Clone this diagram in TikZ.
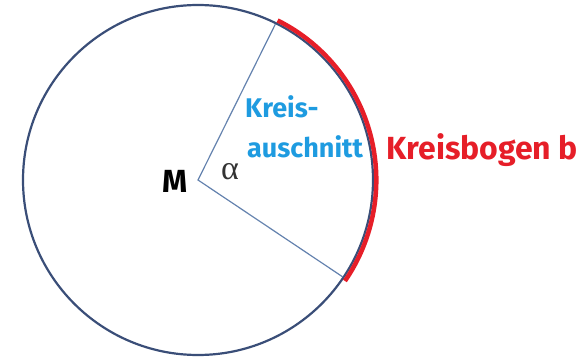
\documentclass[tikz,border=0pt]{standalone}
\usepackage{fontspec}
\setmainfont{Fira Sans}
\newfontfamily\greekserif{Liberation Serif}
\usepackage{xcolor}
\usepackage{tikz}
\usetikzlibrary{positioning}

\definecolor{rimblue}{HTML}{3A4E78}
\definecolor{spokeblue}{HTML}{6482AE}
\definecolor{bogenred}{HTML}{E61E28}
\definecolor{textblue}{HTML}{1E9BE0}

\begin{document}
\begin{tikzpicture}[
      x=1pt, y=1pt,
      rim/.style={draw=rimblue, line width=2.2pt},
      spoke/.style={draw=spokeblue, line width=1.2pt},
      bogen/.style={draw=bogenred, line width=4.5pt},
      lbl/.style={inner sep=0pt, anchor=base west, font=\bfseries\fontsize{27}{29}\selectfont}
    ]
    \useasboundingbox (0,0) rectangle (579,357);

    \coordinate (M) at (198,177);
    \coordinate (A) at ([shift={(63.6:174)}]M);
    \coordinate (B) at ([shift={(-33.8:174)}]M);

    \draw[rim] (M) circle[radius=175];
    \draw[spoke] (A) -- (M) -- (B);
    \draw[bogen] ([shift={(63.5:178.3)}]M) arc[start angle=63.5, end angle=-34.5, radius=178.3];

    \node[inner sep=0pt, anchor=base, font=\bfseries\fontsize{32}{34}\selectfont] (mlbl) at (175,165) {M};
    \node[inner sep=0pt, anchor=base, text=black!80, font=\greekserif\fontsize{34}{36}\selectfont] (alpha) at (230,178) {α};

    \node[lbl, text=textblue] (kreis) at (245,240) {Kreis-};
    \node[lbl, text=textblue] (ausch) at (247,200) {auschnitt};
    \node[lbl, text=bogenred, font=\bfseries\fontsize{32}{34}\selectfont] (bogenlbl) at (386,197) {Kreisbogen b};
  \end{tikzpicture}
\end{document}
